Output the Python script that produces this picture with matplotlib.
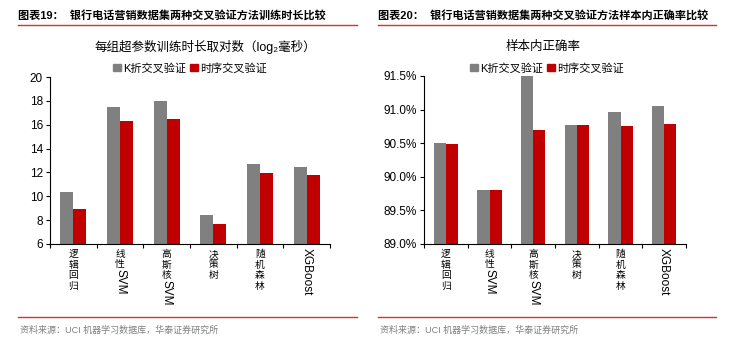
import matplotlib
matplotlib.use("Agg")
import matplotlib.pyplot as plt
from matplotlib.lines import Line2D
import matplotlib.ticker as mticker
import numpy as np

plt.rcParams['font.family'] = ['Liberation Sans', 'Noto Sans CJK SC', 'DejaVu Sans']

# category labels: (stacked Chinese part, rotated Latin part)
categories = [('逻辑回归', ''), ('线性', 'SVM'), ('高斯核', 'SVM'), ('决策树', ''), ('随机森林', ''), ('', 'XGBoost')]
series_names = ['K折交叉验证', '时序交叉验证']

time_kfold = [10.4, 17.5, 18.0, 8.4, 12.7, 12.45]
time_ts = [8.9, 16.35, 16.5, 7.7, 11.95, 11.8]

acc_kfold = [90.50, 89.80, 91.50, 90.77, 90.96, 91.05]
acc_ts = [90.49, 89.80, 90.70, 90.77, 90.76, 90.78]

GRAY = '#808080'
RED = '#C00000'
W, H = 740, 353
fig = plt.figure(figsize=(W / 100, H / 100), dpi=100)


def fx(px):
    return px / W


def fy(py):
    return 1 - py / H


def draw_panel(rect, k, t, ylim, yticks, fmt, title, title_x, legend_x, header, header_x0, header_x1):
    ax = fig.add_axes(rect)
    n = len(categories)
    x = np.arange(n)
    bw = 0.28
    ax.bar(x - bw / 2, k, bw, color=GRAY, label=series_names[0], zorder=2)
    ax.bar(x + bw / 2, t, bw, color=RED, label=series_names[1], zorder=2)
    ax.set_xlim(-0.5, n - 0.5)
    ax.set_ylim(*ylim)
    ax.set_yticks(yticks)
    ax.yaxis.set_major_formatter(mticker.FuncFormatter(fmt))
    for s in ['top', 'right']:
        ax.spines[s].set_visible(False)
    for s in ['left', 'bottom']:
        ax.spines[s].set_color('#000000')
        ax.spines[s].set_linewidth(0.8)
    ax.tick_params(axis='y', direction='out', length=3, width=0.8, labelsize=8.5, pad=2)
    ax.set_xticks(np.arange(-0.5, n, 1.0))
    ax.tick_params(axis='x', direction='out', length=3, width=0.8, labelbottom=False)
    # category labels, Excel-style stacked text
    for i, (cn, lat) in enumerate(categories):
        off = 5
        for ch in cn:
            ax.annotate(ch, xy=(i, 0), xycoords=('data', 'axes fraction'),
                        xytext=(0, -off), textcoords='offset pixels',
                        ha='center', va='top', fontsize=7, color='#000000')
            off += 10.5
        if lat:
            ax.annotate(lat, xy=(i, 0), xycoords=('data', 'axes fraction'),
                        xytext=(0, -off + 1), textcoords='offset pixels',
                        ha='center', va='top', rotation=-90, fontsize=8.5, color='#000000')
    # chart title
    fig.text(fx(title_x), fy(47), title, ha='center', va='center', fontsize=9)
    # legend
    handles = [plt.Rectangle((0, 0), 1, 1, color=GRAY), plt.Rectangle((0, 0), 1, 1, color=RED)]
    fig.legend(handles, series_names, loc='center', bbox_to_anchor=(fx(legend_x), fy(68)),
               ncol=2, frameon=False, fontsize=8, handlelength=0.7, handleheight=0.7,
               handletextpad=0.2, columnspacing=0.3, borderpad=0)
    # header
    fig.text(fx(header_x0), fy(15), header, ha='left', va='center', fontsize=8, fontweight='bold')
    fig.add_artist(Line2D([fx(header_x0), fx(header_x1)], [fy(25), fy(25)], color='#E03020', lw=1))
    fig.add_artist(Line2D([fx(header_x0), fx(header_x1)], [fy(317), fy(317)], color='#E03020', lw=1))
    fig.text(fx(header_x0 + 2), fy(330), '资料来源：UCI 机器学习数据库，华泰证券研究所', ha='left', va='center',
             fontsize=6.5, color='#808080')
    return ax


draw_panel([fx(50), fy(244), fx(280), (244 - 77) / H], time_kfold, time_ts, (6, 20), np.arange(6, 21, 2),
           lambda v, p: f'{v:.0f}', '每组超参数训练时长取对数（log₂毫秒）', 205, 190,
           '图表19：  银行电话营销数据集两种交叉验证方法训练时长比较', 18, 357)
draw_panel([fx(424), fy(244), fx(262), (244 - 76) / H], acc_kfold, acc_ts, (89.0, 91.5), np.arange(89.0, 91.51, 0.5),
           lambda v, p: f'{v:.1f}%', '样本内正确率', 543, 547,
           '图表20：  银行电话营销数据集两种交叉验证方法样本内正确率比较', 378, 716)

fig.savefig('out.png', dpi=100)
